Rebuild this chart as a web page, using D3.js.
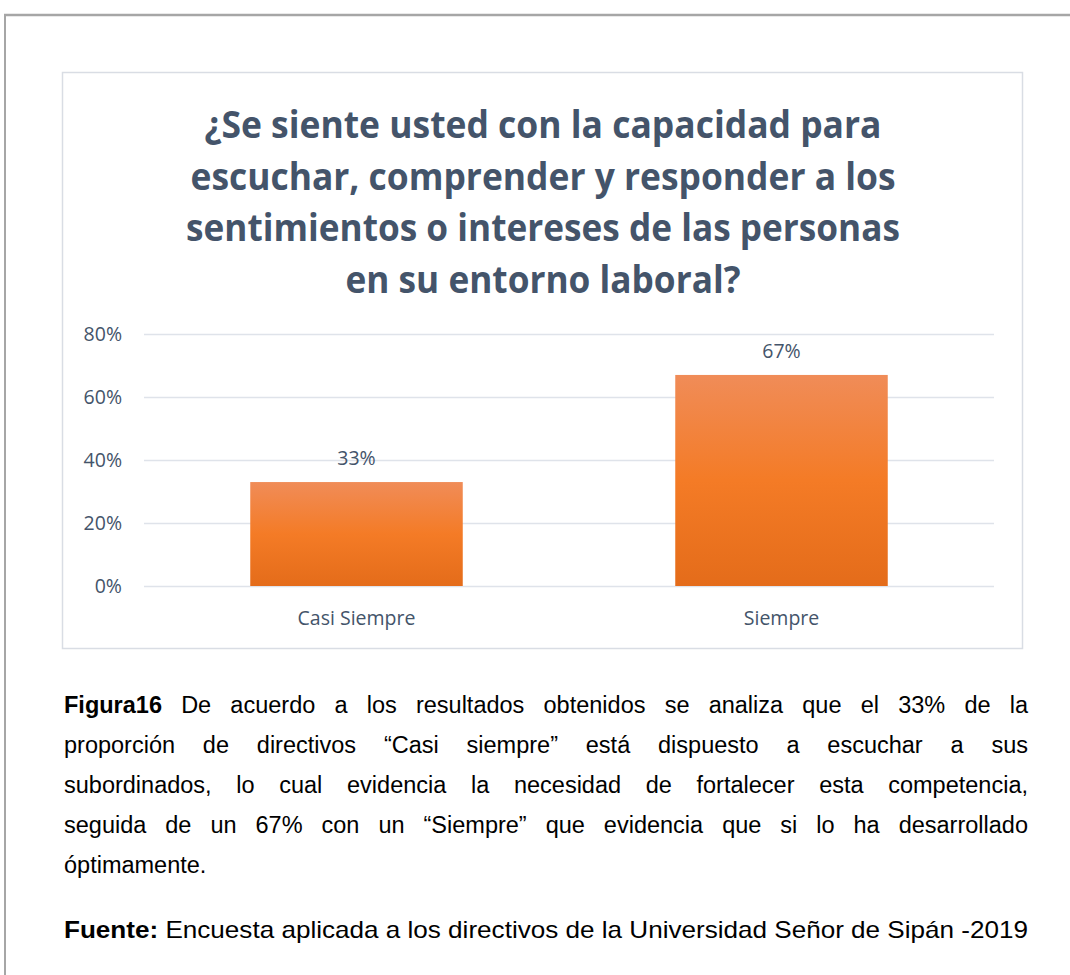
<!DOCTYPE html>
<html>
<head>
<meta charset="utf-8">
<script src="https://cdn.jsdelivr.net/npm/d3@7"></script>
<style>
  html, body { margin: 0; padding: 0; background: #fff; }
  svg { display: block; }
</style>
</head>
<body>
<svg id="chart" width="1070" height="975"></svg>
<script>
// ---- data ----
const categories = ["Casi Siempre", "Siempre"];
const values = [0.33, 0.67];
const valueLabels = ["33%", "67%"];
const yTicks = [0, 0.2, 0.4, 0.6, 0.8];
const titleLines = [
  "¿Se siente usted con la capacidad para",
  "escuchar, comprender y responder a los",
  "sentimientos o intereses de las personas",
  "en su entorno laboral?"
];
const titleWidths = [677, 705, 714, 395];
const paragraphLines = [
  [{b: "Figura16"}, " De acuerdo a los resultados obtenidos se analiza que el 33% de la"],
  ["proporción de directivos “Casi siempre” está dispuesto a escuchar a sus"],
  ["subordinados, lo cual evidencia la necesidad de fortalecer esta competencia,"],
  ["seguida de un 67% con un “Siempre” que evidencia que si lo ha desarrollado"],
  ["óptimamente."]
];
const sourceBold = "Fuente:";
const sourceText = " Encuesta aplicada a los directivos de la Universidad Señor de Sipán -2019";

// ---- drawing ----
const svg = d3.select("#chart");

// page border
svg.append("line").attr("x1", 4).attr("x2", 1070).attr("y1", 15).attr("y2", 15)
  .attr("stroke", "#a6a6a6").attr("stroke-width", 2.5);
svg.append("line").attr("x1", 5).attr("x2", 5).attr("y1", 14).attr("y2", 975)
  .attr("stroke", "#a6a6a6").attr("stroke-width", 2);

// chart box
svg.append("rect").attr("x", 62.5).attr("y", 72.5).attr("width", 960).attr("height", 576)
  .attr("fill", "#fff").attr("stroke", "#d9dde4").attr("stroke-width", 1.5);

// gradient
const defs = svg.append("defs");
const grad = defs.append("linearGradient").attr("id", "barGrad")
  .attr("x1", 0).attr("y1", 0).attr("x2", 0).attr("y2", 1);
grad.append("stop").attr("offset", "0%").attr("stop-color", "#f08c58");
grad.append("stop").attr("offset", "50%").attr("stop-color", "#f47b26");
grad.append("stop").attr("offset", "100%").attr("stop-color", "#e46c1a");

// title
const titleFont = "'Open Sans', sans-serif";
svg.append("g").selectAll("text").data(titleLines).join("text")
  .attr("x", 543)
  .attr("y", (d, i) => 138 + i * 51.5)
  .attr("text-anchor", "middle")
  .attr("font-family", titleFont)
  .attr("font-weight", 700)
  .attr("font-size", 38)
  .attr("fill", "#44546a")
  .attr("textLength", (d, i) => titleWidths[i])
  .attr("lengthAdjust", "spacingAndGlyphs")
  .text(d => d);

// scales
const x = d3.scaleBand().domain(categories).range([144, 994]).paddingInner(0.5).paddingOuter(0.25);
const y = d3.scaleLinear().domain([0, 0.8]).range([586, 334]);

// gridlines
svg.append("g").selectAll("line").data(yTicks).join("line")
  .attr("x1", 144).attr("x2", 994)
  .attr("y1", d => Math.round(y(d)) + 0.5).attr("y2", d => Math.round(y(d)) + 0.5)
  .attr("stroke", "#dfe3ea").attr("stroke-width", 1.5);

// y axis
const yAxis = svg.append("g").attr("transform", "translate(122,0)")
  .call(d3.axisLeft(y).tickValues(yTicks).tickFormat(d3.format(".0%")).tickSize(0).tickPadding(0));
yAxis.select(".domain").remove();
yAxis.selectAll("text").attr("font-family", titleFont).attr("font-size", 19.5)
  .attr("fill", "#44546a").attr("dy", "0.35em");

// x axis
const xAxis = svg.append("g").attr("transform", "translate(0,586)")
  .call(d3.axisBottom(x).tickSize(0).tickPadding(0));
xAxis.select(".domain").remove();
xAxis.selectAll("text").attr("font-family", titleFont).attr("font-size", 19.5)
  .attr("fill", "#44546a").attr("dy", 0).attr("y", 39);

// bars
svg.append("g").selectAll("rect").data(values).join("rect")
  .attr("x", (d, i) => x(categories[i]))
  .attr("y", d => y(d))
  .attr("width", x.bandwidth())
  .attr("height", d => y(0) - y(d))
  .attr("fill", "url(#barGrad)");

// value labels
svg.append("g").selectAll("text").data(values).join("text")
  .attr("x", (d, i) => x(categories[i]) + x.bandwidth() / 2)
  .attr("y", d => y(d) - 17)
  .attr("text-anchor", "middle")
  .attr("font-family", titleFont).attr("font-size", 19.5)
  .attr("fill", "#44546a")
  .text((d, i) => valueLabels[i]);

// paragraph (justified)
const pFont = "'Liberation Sans', Arial, sans-serif";
const pSize = 23.5;
const left = 64, right = 1028;
paragraphLines.forEach((parts, li) => {
  const yy = 713 + li * 40;
  const last = li === paragraphLines.length - 1;
  const words = [];
  parts.forEach(p => {
    if (typeof p === "object") words.push({t: p.b, b: true});
    else p.split(" ").filter(s => s.length).forEach(s => words.push({t: s, b: false}));
  });
  const g = svg.append("g");
  const nodes = words.map(w => g.append("text")
    .attr("y", yy).attr("font-family", pFont).attr("font-size", pSize)
    .attr("font-weight", w.b ? 700 : 400).attr("fill", "#000").text(w.t));
  const widths = nodes.map(n => n.node().getComputedTextLength());
  const total = d3.sum(widths);
  const gap = last ? 6.5 : (right - left - total) / Math.max(1, words.length - 1);
  let cx = left;
  nodes.forEach((n, i) => { n.attr("x", cx); cx += widths[i] + gap; });
});

// source line (condensed to fit)
const src = svg.append("text").attr("x", left).attr("y", 938)
  .attr("font-family", pFont).attr("font-size", 24).attr("fill", "#000")
  .attr("textLength", right - left).attr("lengthAdjust", "spacingAndGlyphs");
src.append("tspan").attr("font-weight", 700).text(sourceBold);
src.append("tspan").text(sourceText);
</script>
</body>
</html>
